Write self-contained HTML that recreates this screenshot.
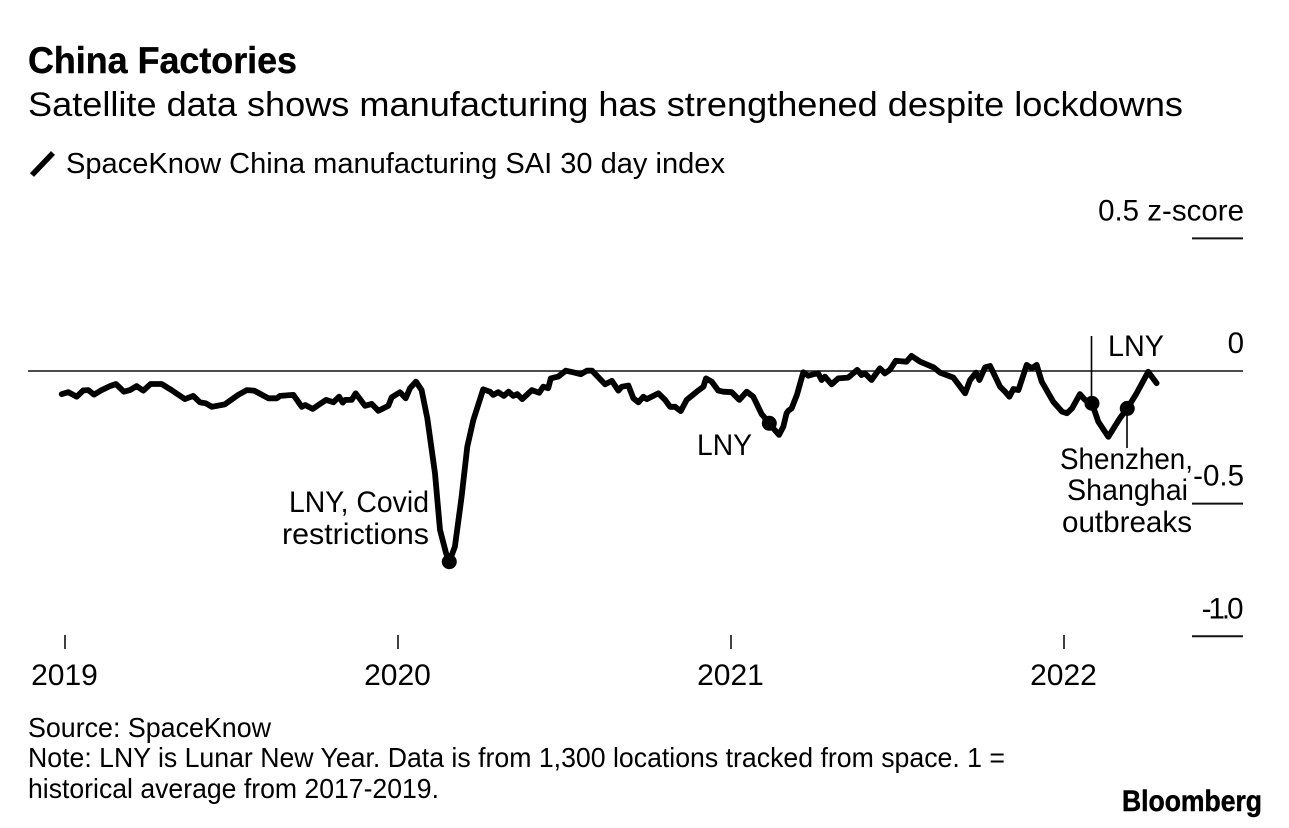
<!DOCTYPE html>
<html lang="en">
<head>
<meta charset="utf-8">
<title>China Factories</title>
<style>
html,body{margin:0;padding:0;background:#fff;}
svg{display:block;font-family:"Liberation Sans",sans-serif;fill:#000;}
</style>
</head>
<body>
<svg id="chart" width="1289" height="828" viewBox="0 0 1289 828" xmlns="http://www.w3.org/2000/svg">
  <text x="28" y="73" font-size="37" font-weight="bold" stroke="#000" stroke-width="0.4" textLength="269" lengthAdjust="spacingAndGlyphs">China Factories</text>
  <text x="28" y="116" font-size="34.5" textLength="1155" lengthAdjust="spacingAndGlyphs">Satellite data shows manufacturing has strengthened despite lockdowns</text>
  <line x1="32" y1="175" x2="53" y2="153" stroke="#000" stroke-width="5.5"/>
  <text x="66" y="173" font-size="28.5" textLength="659" lengthAdjust="spacingAndGlyphs">SpaceKnow China manufacturing SAI 30 day index</text>

  <g id="axes"></g>
  <line x1="1091.5" y1="336" x2="1091.5" y2="404" stroke="#000" stroke-width="1.6"/>
  <line x1="1127" y1="408" x2="1127" y2="448" stroke="#000" stroke-width="1.6"/>
  <g id="marks"></g>

  <text x="289" y="512" font-size="29.5" textLength="140" lengthAdjust="spacingAndGlyphs">LNY, Covid</text>
  <text x="282" y="544" font-size="29.5" textLength="147" lengthAdjust="spacingAndGlyphs">restrictions</text>
  <text x="697" y="455" font-size="29.5" textLength="55" lengthAdjust="spacingAndGlyphs">LNY</text>
  <text x="1108" y="356" font-size="29.5" textLength="56" lengthAdjust="spacingAndGlyphs">LNY</text>
  <text x="1060" y="469" font-size="29.5" textLength="133" lengthAdjust="spacingAndGlyphs">Shenzhen,</text>
  <text x="1067" y="500" font-size="29.5" textLength="121" lengthAdjust="spacingAndGlyphs">Shanghai</text>
  <text x="1062" y="532" font-size="29.5" textLength="130" lengthAdjust="spacingAndGlyphs">outbreaks</text>

  <text x="28" y="737" font-size="27.5" textLength="243" lengthAdjust="spacingAndGlyphs">Source: SpaceKnow</text>
  <text x="28" y="767" font-size="27.5" textLength="977" lengthAdjust="spacingAndGlyphs">Note: LNY is Lunar New Year. Data is from 1,300 locations tracked from space. 1 =</text>
  <text x="28" y="798" font-size="27.5" textLength="411" lengthAdjust="spacingAndGlyphs">historical average from 2017-2019.</text>
  <text x="1122" y="811" font-size="30" font-weight="bold" stroke="#000" stroke-width="0.5" textLength="140" lengthAdjust="spacingAndGlyphs">Bloomberg</text>
</svg>
<script>
const dates = [2018.990,2019.010,2019.035,2019.055,2019.070,2019.087,2019.110,2019.135,2019.153,2019.177,2019.195,2019.215,2019.235,2019.257,2019.290,2019.320,2019.360,2019.385,2019.405,2019.423,2019.441,2019.480,2019.520,2019.546,2019.568,2019.611,2019.636,2019.646,2019.686,2019.711,2019.721,2019.744,2019.761,2019.784,2019.806,2019.823,2019.834,2019.841,2019.861,2019.873,2019.901,2019.921,2019.941,2019.971,2019.981,2020.006,2020.023,2020.036,2020.054,2020.071,2020.088,2020.111,2020.126,2020.144,2020.154,2020.171,2020.191,2020.208,2020.226,2020.256,2020.276,2020.286,2020.301,2020.318,2020.332,2020.346,2020.358,2020.373,2020.402,2020.424,2020.436,2020.451,2020.459,2020.481,2020.504,2020.526,2020.549,2020.567,2020.583,2020.622,2020.642,2020.662,2020.672,2020.692,2020.707,2020.722,2020.737,2020.747,2020.782,2020.802,2020.817,2020.832,2020.849,2020.867,2020.897,2020.917,2020.925,2020.942,2020.962,2020.977,2021.002,2021.025,2021.047,2021.067,2021.092,2021.115,2021.127,2021.144,2021.157,2021.167,2021.172,2021.182,2021.198,2021.217,2021.232,2021.247,2021.262,2021.272,2021.282,2021.302,2021.322,2021.352,2021.379,2021.392,2021.402,2021.412,2021.422,2021.447,2021.462,2021.477,2021.495,2021.527,2021.542,2021.568,2021.608,2021.628,2021.668,2021.703,2021.718,2021.736,2021.746,2021.763,2021.778,2021.808,2021.823,2021.836,2021.848,2021.863,2021.888,2021.903,2021.918,2021.933,2021.968,2021.994,2022.009,2022.024,2022.048,2022.063,2022.084,2022.103,2022.133,2022.168,2022.190,2022.218,2022.253,2022.278];
const values = [-0.087,-0.080,-0.097,-0.073,-0.072,-0.089,-0.072,-0.057,-0.049,-0.078,-0.072,-0.057,-0.074,-0.049,-0.049,-0.072,-0.106,-0.094,-0.118,-0.122,-0.135,-0.126,-0.090,-0.072,-0.074,-0.103,-0.103,-0.094,-0.090,-0.135,-0.128,-0.143,-0.128,-0.109,-0.118,-0.097,-0.119,-0.109,-0.109,-0.084,-0.131,-0.124,-0.150,-0.131,-0.099,-0.080,-0.103,-0.065,-0.040,-0.072,-0.178,-0.386,-0.599,-0.686,-0.719,-0.662,-0.474,-0.285,-0.185,-0.069,-0.078,-0.090,-0.080,-0.094,-0.078,-0.094,-0.087,-0.106,-0.072,-0.082,-0.059,-0.065,-0.028,-0.021,0.001,-0.005,-0.012,0.001,0.001,-0.050,-0.037,-0.074,-0.059,-0.055,-0.103,-0.118,-0.097,-0.106,-0.084,-0.109,-0.135,-0.135,-0.151,-0.109,-0.078,-0.059,-0.028,-0.040,-0.074,-0.078,-0.080,-0.109,-0.078,-0.097,-0.162,-0.197,-0.216,-0.241,-0.210,-0.159,-0.150,-0.141,-0.090,-0.005,-0.018,-0.012,-0.009,-0.034,-0.021,-0.050,-0.028,-0.025,0.004,-0.015,-0.009,-0.021,-0.034,0.010,-0.009,0.004,0.039,0.035,0.057,0.035,0.014,-0.006,-0.025,-0.084,-0.034,-0.006,-0.034,0.014,0.019,-0.059,-0.078,-0.097,-0.068,-0.072,0.023,0.010,0.023,-0.040,-0.116,-0.153,-0.159,-0.141,-0.087,-0.109,-0.122,-0.191,-0.248,-0.178,-0.141,-0.084,-0.003,-0.046];
const markerDates = [2020.154,2021.115,2022.084,2022.190];
const xTickYears = [2019,2020,2021,2022];
const xTickLabels = ["2019","2020","2021","2022"];
const yTickValues = [0.5,0,-0.5,-1];
const yTickLabels = ["0.5 z-score","0","-0.5","-1.0"];

const SVG_NS = "http://www.w3.org/2000/svg";
function xScale(year){ return 65 + (year - 2019) * 333; }
function yScale(value){ return 371 - value * 265.3; }
function valueAt(date){
  let best = 0;
  for(let i = 0; i < dates.length; i++){
    if(Math.abs(dates[i] - date) < Math.abs(dates[best] - date)) best = i;
  }
  return values[best];
}
function make(tag, parent, attrs){
  const el = document.createElementNS(SVG_NS, tag);
  for(const k in attrs) el.setAttribute(k, attrs[k]);
  parent.appendChild(el);
  return el;
}
const axes = document.getElementById("axes");
const marks = document.getElementById("marks");

yTickValues.forEach(function(v, i){
  const y = yScale(v);
  const isZero = v === 0;
  const hasOne = yTickLabels[i].includes("1");
  const line = make("line", axes, {x1: isZero ? 28 : 1192, x2: 1243, y1: y, y2: y, stroke: isZero ? "#333" : "#111", "stroke-width": isZero ? 1.8 : 2});
  
  
  const label = make("text", axes, {x: hasOne ? 1240.5 : 1244, y: y - 18, "font-size": 29.5, "text-anchor": "end", "letter-spacing": hasOne ? -3 : 0});
  
  
  label.textContent = yTickLabels[i];
});

xTickYears.forEach(function(year, i){
  const x = xScale(year);
  const tick = make("line", axes, {x1: x, x2: x, y1: 635, y2: 649, stroke: "#111", "stroke-width": 1.6});
  
  
  const label = make("text", axes, {x: x - 0.5, y: 685, "font-size": 30, "text-anchor": "middle"});
  
  
  label.textContent = xTickLabels[i];
});

const pts = dates.map(function(d, i){ return xScale(d).toFixed(1) + "," + yScale(values[i]).toFixed(1); }).join(" ");
const series = make("polyline", marks, {points: pts, fill: "none", stroke: "#000", "stroke-width": 5.8, "stroke-linejoin": "round", "stroke-linecap": "round"});



markerDates.forEach(function(d){
  const dot = make("circle", marks, {cx: xScale(d), cy: yScale(valueAt(d)), r: 7.5, fill: "#000"});
  
  
});
</script>
</body>
</html>
